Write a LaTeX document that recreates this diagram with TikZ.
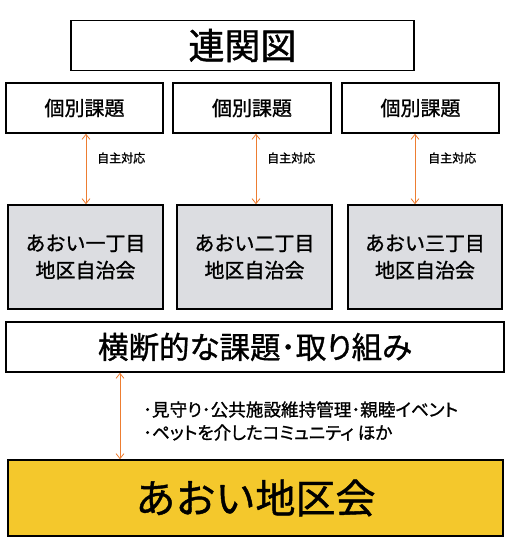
\documentclass[tikz,border=0pt]{standalone}
\usepackage{fontspec}
\setmainfont{Noto Sans CJK JP}[FakeBold=1.1]
\newfontfamily\jpp{Noto Sans CJK JP}[FakeBold=1.1, RawFeature=+palt]
\usetikzlibrary{arrows.meta}
\definecolor{arrowc}{HTML}{ED7D31}
\definecolor{grayfill}{HTML}{DCDDE1}
\definecolor{goldfill}{HTML}{F4C82C}
\tikzset{
  boxw/.style={draw=black, line width=1.6pt, fill=white, inner sep=0pt},
  boxg/.style={draw=black, line width=1.6pt, fill=grayfill, inner sep=0pt, align=center},
  boxy/.style={draw=black, line width=1.6pt, fill=goldfill, inner sep=0pt},
  arr/.style={draw=arrowc, line width=0.8pt, {Straight Barb[length=5pt,width=8pt]}-{Straight Barb[length=5pt,width=8pt]}},
  lbl/.style={inner sep=0pt, anchor=west}
}
\begin{document}
\begin{tikzpicture}[x=1pt,y=-1pt]
\useasboundingbox (0,0) rectangle (515,549);
\node[boxw, minimum width=343pt, minimum height=50pt, font=\fontsize{36}{40}\selectfont] (T) at (242.5,45.5) {連関図};
\node[boxw, minimum width=157pt, minimum height=50pt, font=\fontsize{20}{24}\selectfont] (G1) at (84.5,108) {個別課題};
\node[boxw, minimum width=158pt, minimum height=50pt, font=\fontsize{20}{24}\selectfont] (G2) at (252,108) {個別課題};
\node[boxw, minimum width=157pt, minimum height=50pt, font=\fontsize{20}{24}\selectfont] (G3) at (420.5,108) {個別課題};
\node[boxg, minimum width=155pt, minimum height=104pt, font=\fontsize{20}{27}\selectfont] (J1) at (85.5,257) {あおい一丁目\\地区自治会};
\node[boxg, minimum width=155pt, minimum height=104pt, font=\fontsize{20}{27}\selectfont] (J2) at (254.5,257) {あおい二丁目\\地区自治会};
\node[boxg, minimum width=154pt, minimum height=104pt, font=\fontsize{20}{27}\selectfont] (J3) at (425,257) {あおい三丁目\\地区自治会};
\node[boxw, minimum width=498pt, minimum height=50pt, font=\jpp\fontsize{30.5}{33}\selectfont] (C) at (255,347) {横断的な課題･取り組み};
\node[boxy, minimum width=495pt, minimum height=76pt, font=\fontsize{40}{44}\selectfont] (B) at (255.5,498) {あおい地区会};
\coordinate (a1) at (86,0);
\coordinate (a2) at (256,0);
\coordinate (a3) at (415,0);
\coordinate (a4) at (120,0);
\draw[arr] (G1.south -| a1) -- (J1.north -| a1);
\draw[arr] (G2.south -| a2) -- (J2.north -| a2);
\draw[arr] (G3.south -| a3) -- (J3.north -| a3);
\draw[arr] (C.south -| a4) -- (B.north -| a4);
\node[lbl, font=\fontsize{12}{14}\selectfont] (L1) at (97,158) {自主対応};
\node[lbl, font=\fontsize{12}{14}\selectfont] (L2) at (267,158) {自主対応};
\node[lbl, font=\fontsize{12}{14}\selectfont] (L3) at (428,158) {自主対応};
\node[lbl, align=left, font=\jpp\fontsize{17.6}{23}\selectfont] (N) at (143,421) {･見守り･公共施設維持管理･親睦イベント\\･ペットを介したコミュニティ ほか};
\end{tikzpicture}
\end{document}
